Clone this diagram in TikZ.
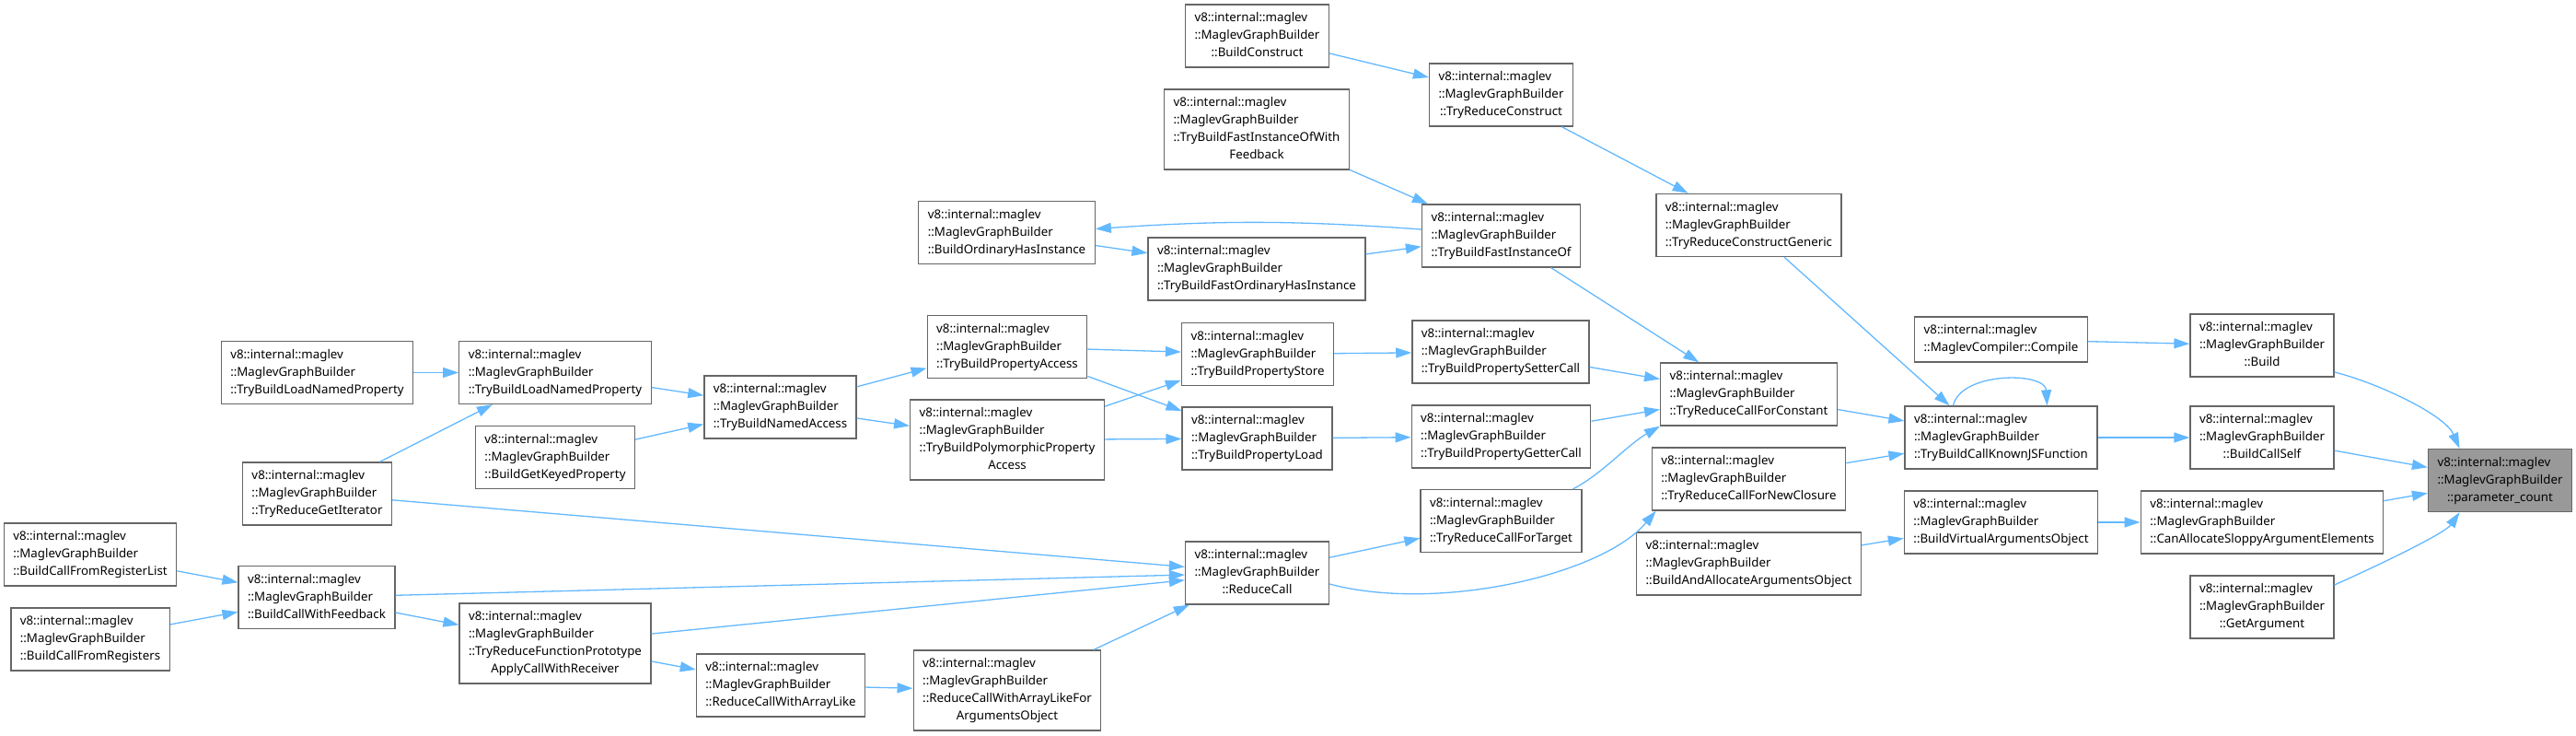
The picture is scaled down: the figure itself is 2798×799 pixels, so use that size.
\documentclass[tikz,border=0pt]{standalone}
\usepackage{fontspec}
\setmainfont{Noto Sans}
\usetikzlibrary{arrows.meta}
\definecolor{nodegray}{HTML}{666666}
\definecolor{rootgray}{HTML}{999999}
\definecolor{callblue}{HTML}{63B8FF}
% three-line and four-line member labels
\newcommand{\mgb}[1]{\begin{tabular}{@{}l@{}}v8::internal::maglev\\::MaglevGraphBuilder\\\multicolumn{1}{@{}c@{}}{#1}\end{tabular}}
\newcommand{\mgbw}[2]{\begin{tabular}{@{}l@{}}v8::internal::maglev\\::MaglevGraphBuilder\\#1\\\multicolumn{1}{@{}c@{}}{#2}\end{tabular}}
\begin{document}
\begin{tikzpicture}[x=1pt, y=-1pt,
  fn/.style={draw=nodegray, fill=white, line width=1.3pt, inner xsep=10pt, inner ysep=5.5pt, font=\fontsize{13.3}{19}\selectfont},
  root/.style={fn, fill=rootgray},
  calls/.style={draw=callblue, line width=1.3pt, -{Triangle[length=17pt,width=11pt]}}]
  \useasboundingbox (0,0) rectangle (2798,799);
  \node[fn] (bcons) at (1365.5,39) {\mgb{::BuildConstruct}};
  \node[fn] (trcons) at (1630.5,103) {\mgb{::TryReduceConstruct}};
  \node[fn] (tbfiowf) at (1365,140.5) {\mgbw{::TryBuildFastInstanceOfWith}{Feedback}};
  \node[fn] (tbfio) at (1630.5,256) {\mgb{::TryBuildFastInstanceOf}};
  \node[fn] (bohi) at (1093.5,252.5) {\mgb{::BuildOrdinaryHasInstance}};
  \node[fn] (tbfohi) at (1365,292) {\mgb{::TryBuildFastOrdinaryHasInstance}};
  \node[fn] (trcg) at (1899.5,244.5) {\mgb{::TryReduceConstructGeneric}};
  \node[fn] (tblnpa) at (344.5,404.5) {\mgb{::TryBuildLoadNamedProperty}};
  \node[fn] (tblnpb) at (603,404.5) {\mgb{::TryBuildLoadNamedProperty}};
  \node[fn] (bgkp) at (603,496.5) {\mgb{::BuildGetKeyedProperty}};
  \node[fn] (tbna) at (847.5,442) {\mgb{::TryBuildNamedAccess}};
  \node[fn] (tbpa) at (1094,376.5) {\mgb{::TryBuildPropertyAccess}};
  \node[fn] (tbppa) at (1094,477.5) {\mgbw{::TryBuildPolymorphicProperty}{Access}};
  \node[fn] (tbps) at (1366,384.5) {\mgb{::TryBuildPropertyStore}};
  \node[fn] (tbpl) at (1365.5,476) {\mgb{::TryBuildPropertyLoad}};
  \node[fn] (tbpsc) at (1630,382) {\mgb{::TryBuildPropertySetterCall}};
  \node[fn] (tbpgc) at (1630.5,474) {\mgb{::TryBuildPropertyGetterCall}};
  \node[fn] (trcfc) at (1899.5,428) {\mgb{::TryReduceCallForConstant}};
  \node[fn] (trcfnc) at (1899.5,520) {\mgb{::TryReduceCallForNewClosure}};
  \node[fn] (trcft) at (1630.5,565.5) {\mgb{::TryReduceCallForTarget}};
  \node[fn] (baaao) at (1899.5,612) {\mgb{::BuildAndAllocateArgumentsObject}};
  \node[fn] (compile) at (2173.5,368.5) {\begin{tabular}{@{}l@{}}v8::internal::maglev\\::MaglevCompiler::Compile\end{tabular}};
  \node[fn] (tbckjsf) at (2173.5,475) {\mgb{::TryBuildCallKnownJSFunction}};
  \node[fn] (bvao) at (2173.5,567) {\mgb{::BuildVirtualArgumentsObject}};
  \node[fn] (build) at (2457,375) {\mgb{::Build}};
  \node[fn] (bcself) at (2457,475) {\mgb{::BuildCallSelf}};
  \node[fn] (casae) at (2457,567) {\mgb{::CanAllocateSloppyArgumentElements}};
  \node[fn] (getarg) at (2457,659) {\mgb{::GetArgument}};
  \node[root] (pcount) at (2715.5,521.5) {\mgb{::parameter\_count}};
  \node[fn] (trgi) at (344.5,536) {\mgb{::TryReduceGetIterator}};
  \node[fn] (bcfrl) at (98,602) {\mgb{::BuildCallFromRegisterList}};
  \node[fn] (bcfr) at (98,694) {\mgb{::BuildCallFromRegisters}};
  \node[fn] (bcwf) at (344,648.5) {\mgb{::BuildCallWithFeedback}};
  \node[fn] (trfpa) at (603,698.5) {\mgbw{::TryReduceFunctionPrototype}{ApplyCallWithReceiver}};
  \node[fn] (rcwal) at (848,744) {\mgb{::ReduceCallWithArrayLike}};
  \node[fn] (rcwalfao) at (1094,749.5) {\mgbw{::ReduceCallWithArrayLikeFor}{ArgumentsObject}};
  \node[fn] (rcall) at (1365.5,622) {\mgb{::ReduceCall}};
  % callers -> callees
  \draw[calls] (bcons) -- (trcons);
  \draw[calls] (trcons) -- (trcg);
  \draw[calls] (tbfiowf) -- (tbfio);
  \draw[calls] ([yshift=7pt]tbfio.west) to[bend right=4] ([yshift=4pt]bohi.east);
  \draw[calls] (bohi) -- (tbfohi);
  \draw[calls] (tbfohi) -- (tbfio);
  \draw[calls] (tbfio) -- (trcfc);
  \draw[calls] (trcg) -- ([xshift=-56pt]tbckjsf.north);
  \draw[calls] (tblnpa) -- (tblnpb);
  \draw[calls] (tblnpb) -- (tbna);
  \draw[calls] (bgkp) -- (tbna);
  \draw[calls] (trgi) -- (tblnpb);
  \draw[calls] (tbna) -- (tbpa);
  \draw[calls] (tbna) -- (tbppa);
  \draw[calls] (tbpa) -- (tbps);
  \draw[calls] (tbpa) -- (tbpl);
  \draw[calls] (tbppa) -- (tbps);
  \draw[calls] (tbppa) -- (tbpl);
  \draw[calls] (tbps) -- (tbpsc);
  \draw[calls] (tbpl) -- (tbpgc);
  \draw[calls] (tbpsc) -- (trcfc);
  \draw[calls] (tbpgc) -- (trcfc);
  \draw[calls] ([xshift=78pt]trcft.north) .. controls +(30,-15) and +(-35,20) .. (trcfc.south west);
  \draw[calls] (trcfc) -- (tbckjsf);
  \draw[calls] (trcfnc) -- (tbckjsf);
  \draw[calls] ([xshift=-52pt]tbckjsf.north) .. controls +(8,-37) and +(-2,-37) .. ([xshift=50pt]tbckjsf.north);
  \draw[calls] (trgi) -- (rcall);
  \draw[calls] (bcwf) -- (rcall);
  \draw[calls] (trfpa) -- (rcall);
  \draw[calls] (rcwalfao) -- (rcall);
  \draw[calls] (rcall) -- (trcft);
  \draw[calls] ([yshift=-12pt]rcall.east) .. controls +(116,31) and +(-59,70) .. ([xshift=5pt]trcfnc.south west);
  \draw[calls] (bcfrl) -- (bcwf);
  \draw[calls] (bcfr) -- (bcwf);
  \draw[calls] (bcwf) -- (trfpa);
  \draw[calls] (trfpa) -- (rcwal);
  \draw[calls] (rcwal) -- (rcwalfao);
  \draw[calls] (compile) -- (build);
  \draw[calls] (tbckjsf) -- (bcself);
  \draw[calls] (baaao) -- (bvao);
  \draw[calls] (bvao) -- (casae);
  \draw[calls] ([yshift=-29pt]build.east) .. controls +(45,11) and +(-16,-37) .. ([xshift=-44pt]pcount.north);
  \draw[calls] (bcself) -- (pcount);
  \draw[calls] (casae) -- (pcount);
  \draw[calls] ([yshift=24pt]getarg.east) .. controls +(45,-20) and +(-16,23) .. ([xshift=-44pt]pcount.south);
\end{tikzpicture}
\end{document}
